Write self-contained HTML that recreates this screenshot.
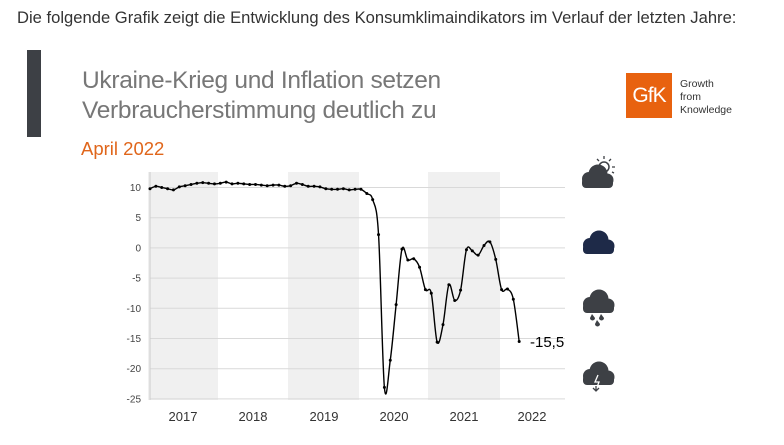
<!DOCTYPE html>
<html><head><meta charset="utf-8"><style>
body{margin:0;width:784px;height:445px;background:#fff;overflow:hidden;position:relative;font-family:"Liberation Sans",sans-serif}
.a{position:absolute;white-space:nowrap}
</style></head><body>
<div class="a" style="left:17px;top:8px;font-size:16.6px;color:#333">Die folgende Grafik zeigt die Entwicklung des Konsumklimaindikators im Verlauf der letzten Jahre:</div>
<div class="a" style="left:27px;top:50px;width:14px;height:87px;background:#3d4045"></div>
<div class="a" style="left:82px;top:66px;font-size:24.5px;color:#777;font-weight:300;letter-spacing:-0.3px;line-height:30px">Ukraine-Krieg und Inflation setzen<br>Verbraucherstimmung deutlich zu</div>
<div class="a" style="left:81px;top:138px;font-size:18.5px;color:#e0661b">April 2022</div>
<div class="a" style="left:626px;top:73px;width:46px;height:45px;background:#e8620f;color:#fff;font-size:21px;line-height:45px;text-align:center;letter-spacing:-1px">GfK</div>
<div class="a" style="left:680px;top:78px;font-size:10.5px;color:#333;line-height:13px">Growth<br>from<br>Knowledge</div>
<svg class="a" style="left:0;top:0" width="784" height="445" id="s">
<defs><g id="cl"><circle cx="-8" cy="-5" r="7"/><circle cx="1" cy="-10" r="9.5"/><circle cx="10" cy="-4" r="6.5"/><rect x="-15" y="-6" width="31" height="10" rx="4"/></g></defs>
<g fill="#f0f0f0"><rect x="148" y="172" width="70" height="228"/><rect x="288" y="172" width="71" height="228"/><rect x="428" y="172" width="72" height="228"/></g>
<g id="grid" stroke="#d9d9d9" stroke-width="1"></g>
<line x1="150" y1="172" x2="150" y2="400" stroke="#ccc"/>
<g id="yl" font-size="10" fill="#444" text-anchor="end" font-family="Liberation Sans,sans-serif"></g>
<g font-size="13" fill="#333" text-anchor="middle" font-family="Liberation Sans,sans-serif">
<text x="183" y="421">2017</text><text x="253" y="421">2018</text><text x="324" y="421">2019</text><text x="394" y="421">2020</text><text x="464" y="421">2021</text><text x="532" y="421">2022</text></g>
<path id="ln" fill="none" stroke="#000" stroke-width="1.4"/>
<g id="dt" fill="#000"></g>
<text x="530" y="347" font-size="15" fill="#000" font-family="Liberation Sans,sans-serif">-15,5</text>
<g fill="#3d4045">
<circle cx="604" cy="167" r="5" fill="none" stroke="#3d4045" stroke-width="1.5"/>
<path d="M604 156v3M611 159l-2 2M615 167h-3M597 159l2 2M614 173l-2-1" stroke="#3d4045" stroke-width="1.3"/>
<use href="#cl" x="597" y="184"/>
<use href="#cl" x="598" y="250" fill="#1e2a48"/>
<use href="#cl" x="598" y="309"/>
<path d="M592 314l3 4a2.5 2.5 0 1 1-5 0z M601 314l3 4a2.5 2.5 0 1 1-5 0z M597 320l3 4a2.5 2.5 0 1 1-5 0z" fill="#3d4045"/>
<use href="#cl" x="598" y="381"/>
<path d="M598 375l-3 7h4l-3 8m-3-3l3 3 3-3" stroke="#fff" stroke-width="1.3" fill="none"/>
<path d="M596 386v5m-3-3l3 3 3-3" stroke="#3d4045" stroke-width="1.3" fill="none"/>
</g>
</svg>
<script>
var Y=function(v){return 187.5+(10-v)*6.04};
var g='',l='';
for(var v=10;v>=-25;v-=5){g+='<line x1="150" x2="565" y1="'+Y(v)+'" y2="'+Y(v)+'"/>';l+='<text x="141" y="'+(Y(v)+3.5)+'">'+v+'</text>';}
document.getElementById('grid').innerHTML=g;document.getElementById('yl').innerHTML=l;
var d=[9.8,10.2,10.0,9.8,9.6,10.1,10.3,10.5,10.7,10.8,10.7,10.6,10.7,10.9,10.6,10.7,10.6,10.5,10.5,10.4,10.3,10.4,10.4,10.2,10.3,10.7,10.5,10.2,10.2,10.1,9.8,9.7,9.7,9.8,9.6,9.7,9.7,9.0,8.0,2.2,-23.1,-18.6,-9.4,-0.2,-2.0,-1.8,-3.2,-6.9,-7.5,-15.6,-12.7,-6.1,-8.7,-7.0,-0.3,-0.5,-1.2,0.4,1.0,-1.9,-6.9,-6.8,-8.5,-15.5];
var p=d.map(function(v,i){return [150+i*5.86,Y(v)]});
var s='M'+p[0][0]+' '+p[0][1],dt='';
for(var i=0;i<p.length-1;i++){var a=p[i>0?i-1:0],b=p[i],c=p[i+1],e=p[i+2<p.length?i+2:i+1];
s+=' C'+(b[0]+(c[0]-a[0])/6)+' '+(b[1]+(c[1]-a[1])/6)+' '+(c[0]-(e[0]-b[0])/6)+' '+(c[1]-(e[1]-b[1])/6)+' '+c[0]+' '+c[1];}
p.forEach(function(q){dt+='<circle cx="'+q[0]+'" cy="'+q[1]+'" r="1.5"/>'});
document.getElementById('ln').setAttribute('d',s);document.getElementById('dt').innerHTML=dt;
</script>
</body></html>
